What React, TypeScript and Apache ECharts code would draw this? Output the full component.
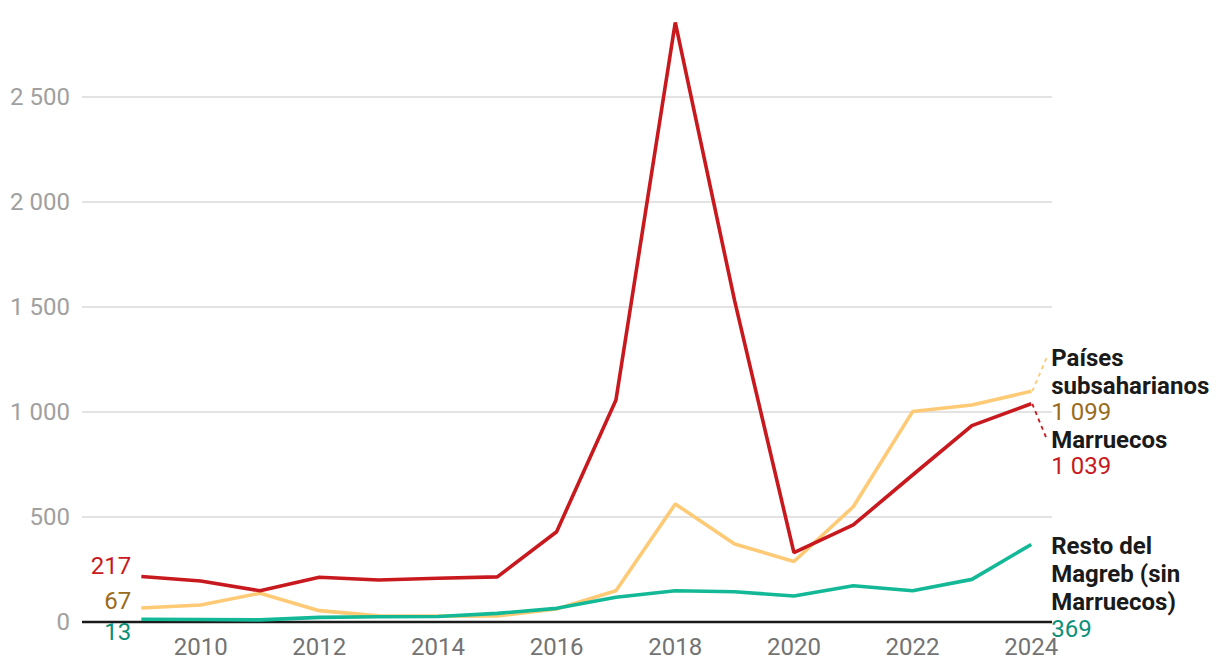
import React, { useEffect, useRef } from "react";
import * as echarts from "echarts";

const years = [2009, 2010, 2011, 2012, 2013, 2014, 2015, 2016, 2017, 2018, 2019, 2020, 2021, 2022, 2023, 2024];
const marruecos = [217, 195, 149, 213, 200, 208, 215, 430, 1057, 2855, 1530, 330, 462, 700, 935, 1039];
const subsaharianos = [67, 81, 137, 54, 29, 28, 29, 62, 149, 562, 371, 288, 549, 1002, 1033, 1099];
const restoMagreb = [13, 12, 10, 22, 25, 26, 41, 65, 118, 149, 144, 124, 173, 149, 203, 369];
const yTicks = [0, 500, 1000, 1500, 2000, 2500];
const xTickLabels = [2010, 2012, 2014, 2016, 2018, 2020, 2022, 2024];

const RED = "#c8191e";
const YELLOW = "#ffca75";
const TEAL = "#13b996";
const YELLOW_TXT = "#9a6b1c";
const TEAL_TXT = "#0c8f78";
const FONT = "Roboto";
const FS = 24;

const fmt = (v: number) => String(v).replace(/\B(?=(\d{3})+(?!\d))/g, " ");

export default function App() {
  const ref = useRef<HTMLDivElement>(null);
  useEffect(() => {
    if (!ref.current) return;
    const chart = echarts.init(ref.current, undefined, { renderer: "svg" });
    const pairs = (arr: number[]) => years.map((y, i) => [y, arr[i]]);
    const option: any = {
      animation: false,
      grid: { left: 82, right: 168, top: 13, bottom: 50, containLabel: false },
      xAxis: {
        type: "value",
        min: 2008,
        max: 2024.35,
        interval: 2,
        axisLine: { show: false },
        axisTick: { show: false },
        splitLine: { show: false },
        axisLabel: {
          showMinLabel: false,
          showMaxLabel: false,
          color: "#737373",
          fontSize: FS,
          fontFamily: FONT,
          margin: 13,
          formatter: (v: number) => (xTickLabels.includes(v) ? String(v) : ""),
        },
      },
      yAxis: {
        type: "value",
        min: yTicks[0],
        max: 2900,
        interval: 500,
        axisLine: { show: false },
        axisTick: { show: false },
        splitLine: { show: true, showMaxLine: false, lineStyle: { color: "#e3e3e3", width: 2 } },
        axisLabel: {
          showMaxLabel: false,
          color: "#a0a0a0",
          fontSize: FS,
          fontFamily: FONT,
          margin: 12,
          formatter: (v: number) => (yTicks.includes(v) ? fmt(v) : ""),
        },
      },
      series: [
        {
          type: "line",
          data: pairs(subsaharianos),
          showSymbol: false,
          lineStyle: { color: YELLOW, width: 3.6 },
          z: 3,
        },
        {
          type: "line",
          data: pairs(restoMagreb),
          showSymbol: false,
          lineStyle: { color: TEAL, width: 3.6 },
          z: 4,
        },
        {
          type: "line",
          data: pairs(marruecos),
          showSymbol: false,
          lineStyle: { color: RED, width: 3.6 },
          z: 5,
        },
      ],
    };
    chart.setOption(option);

    const px = (x: number, y: number) => chart.convertToPixel({ gridIndex: 0 }, [x, y]) as number[];
    const first = years[0];
    const last = years[years.length - 1];
    const n = years.length - 1;
    const axisStart = px(2008, 0);
    const axisEnd = px(2024.35, 0);
    const pY0 = px(first, subsaharianos[0]);
    const pR0 = px(first, marruecos[0]);
    const pT0 = px(first, restoMagreb[0]);
    const pY = px(last, subsaharianos[n]);
    const pR = px(last, marruecos[n]);
    const pT = px(last, restoMagreb[n]);
    const lx = pY[0] + 20;

    const txt = (text: string, x: number, y: number, fill: string, bold: boolean, align: string) => ({
      type: "text",
      x,
      y,
      z: 100,
      style: {
        text,
        fill,
        fontSize: FS,
        lineHeight: 22,
        fontFamily: FONT,
        fontWeight: bold ? "bold" : "normal",
        align,
        verticalAlign: "middle",
      },
    });

    const graphic: any[] = [
      {
        type: "line",
        z: 2,
        shape: { x1: axisStart[0], y1: axisStart[1], x2: axisEnd[0], y2: axisEnd[1] },
        style: { stroke: "#1a1a1a", lineWidth: 2.5 },
      },
      txt(String(marruecos[0]), pR0[0] - 10, pR0[1] - 10, RED, false, "right"),
      txt(String(subsaharianos[0]), pY0[0] - 10, pY0[1] - 7, YELLOW_TXT, false, "right"),
      txt(String(restoMagreb[0]), pT0[0] - 10, pT0[1] + 13, TEAL_TXT, false, "right"),
      {
        type: "line",
        shape: { x1: pY[0] + 1, y1: pY[1], x2: pY[0] + 16, y2: pY[1] - 35 },
        style: { stroke: YELLOW, lineWidth: 1.8, lineDash: [4, 4] },
      },
      {
        type: "line",
        shape: { x1: pR[0] + 1, y1: pR[1], x2: pR[0] + 15, y2: pR[1] + 34 },
        style: { stroke: RED, lineWidth: 1.8, lineDash: [4, 4] },
      },
      txt("Países", lx, pY[1] - 33, "#1a1a1a", true, "left"),
      txt("subsaharianos", lx, pY[1] - 5, "#1a1a1a", true, "left"),
      txt(fmt(subsaharianos[n]), lx, pY[1] + 21, YELLOW_TXT, false, "left"),
      txt("Marruecos", lx, pR[1] + 36, "#1a1a1a", true, "left"),
      txt(fmt(marruecos[n]), lx, pR[1] + 62, RED, false, "left"),
      txt("Resto del", lx, pT[1] + 1, "#1a1a1a", true, "left"),
      txt("Magreb (sin", lx, pT[1] + 29, "#1a1a1a", true, "left"),
      txt("Marruecos)", lx, pT[1] + 57, "#1a1a1a", true, "left"),
      txt(fmt(restoMagreb[n]), lx, pT[1] + 84, TEAL_TXT, false, "left"),
    ];
    chart.setOption({ graphic });

    return () => chart.dispose();
  }, []);
  return (
    <div
      ref={ref}
      style={{ position: "fixed", left: 0, top: 0, width: 1220, height: 672, background: "#fff" }}
    />
  );
}
